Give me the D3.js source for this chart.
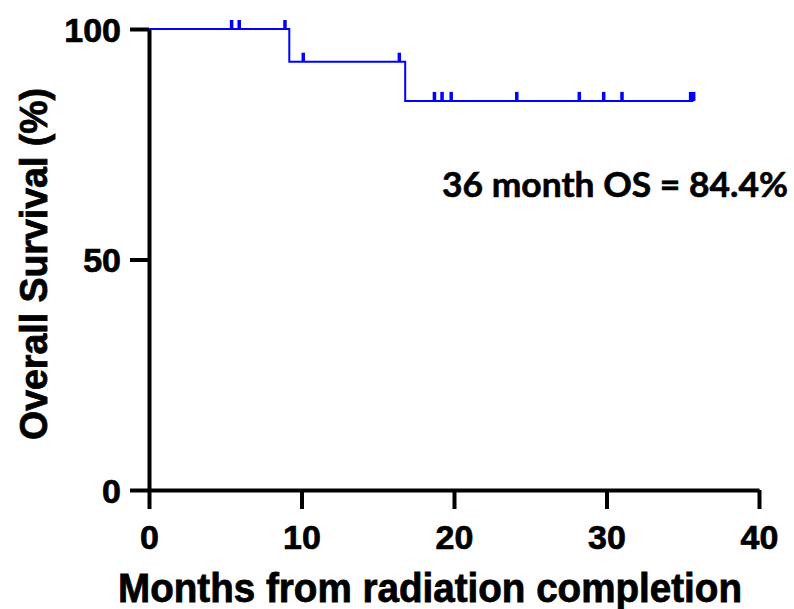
<!DOCTYPE html>
<html>
<head>
<meta charset="utf-8">
<script src="https://cdn.jsdelivr.net/npm/d3@7"></script>
<style>
  body { margin: 0; background: #fff; }
  text { font-family: "Liberation Sans", Arial, sans-serif; font-weight: bold; }
</style>
</head>
<body>
<svg id="chart" width="794" height="609"></svg>
<script>
// step curve: time (months) and survival (%) after each step
var stepTimes = [0, 9.2, 16.8];
var stepSurvival = [100, 92.9, 84.4];
var lastTime = 35.7;

// censored patients (months)
var censorTimes = [5.4, 5.9, 8.9, 10.1, 16.4, 18.7, 19.2, 19.8, 24.1, 28.2, 29.8, 31.0, 35.5, 35.7];

var xTicks = [0, 10, 20, 30, 40];
var yTicks = [0, 50, 100];

var svg = d3.select("#chart");

var x = d3.scaleLinear().domain([0, 40]).range([149, 759]);
var y = d3.scaleLinear().domain([0, 100]).range([490, 29]);

function survivalAt(t) {
    var s = stepSurvival[0];
    stepTimes.forEach(function (st, i) {
        if (t >= st) s = stepSurvival[i];
    });
    return s;
}

var pts = stepTimes.map(function (t, i) { return [t, stepSurvival[i]]; });
pts.push([lastTime, stepSurvival[stepSurvival.length - 1]]);

// axes
var xAxis = svg.append("g")
    .attr("transform", "translate(0," + y(0) + ")")
    .call(d3.axisBottom(x).tickValues(xTicks).tickSize(19).tickSizeOuter(0).tickPadding(16));

var yAxis = svg.append("g")
    .attr("transform", "translate(" + x(0) + ",0)")
    .call(d3.axisLeft(y).tickValues(yTicks).tickSize(19).tickSizeOuter(0).tickPadding(9));

[xAxis, yAxis].forEach(function (g) {
    g.select(".domain").attr("stroke", "#000").attr("stroke-width", 4);
    g.selectAll(".tick line").attr("stroke", "#000").attr("stroke-width", 4);
    g.selectAll(".tick text")
        .attr("fill", "#000")
        .attr("stroke", "#000")
        .attr("stroke-width", 0.7)
        .style("font-size", "34px");
});
xAxis.selectAll(".tick text").attr("dy", "0.71em");
yAxis.selectAll(".tick text").attr("dy", "0.36em");

// survival curve
var line = d3.line()
    .x(function (d) { return x(d[0]); })
    .y(function (d) { return y(d[1]); })
    .curve(d3.curveStepAfter);

svg.append("path")
    .datum(pts)
    .attr("fill", "none")
    .attr("stroke", "#0000ff")
    .attr("stroke-width", 2)
    .attr("d", line);

svg.selectAll("rect.censor")
    .data(censorTimes)
    .enter()
    .append("rect")
    .attr("class", "censor")
    .attr("x", function (d) { return x(d) - 1.5; })
    .attr("y", function (d) { return y(survivalAt(d)) - 9; })
    .attr("width", 3.5)
    .attr("height", 9)
    .attr("fill", "#0000ff");

// labels
svg.append("text")
    .attr("x", 442)
    .attr("y", 197)
    .attr("textLength", 346)
    .attr("lengthAdjust", "spacingAndGlyphs")
    .attr("stroke", "#000")
    .attr("stroke-width", 0.6)
    .style("font-family", "Lato, 'Open Sans', sans-serif")
    .style("font-size", "35px")
    .text("36 month OS = 84.4%");

svg.append("text")
    .attr("x", 118)
    .attr("y", 602)
    .attr("textLength", 624)
    .attr("lengthAdjust", "spacingAndGlyphs")
    .attr("stroke", "#000")
    .attr("stroke-width", 0.8)
    .style("font-size", "40px")
    .text("Months from radiation completion");

svg.append("text")
    .attr("transform", "translate(47,440) rotate(-90)")
    .attr("textLength", 352)
    .attr("lengthAdjust", "spacingAndGlyphs")
    .attr("stroke", "#000")
    .attr("stroke-width", 0.8)
    .style("font-size", "39px")
    .text("Overall Survival (%)");
</script>
</body>
</html>
